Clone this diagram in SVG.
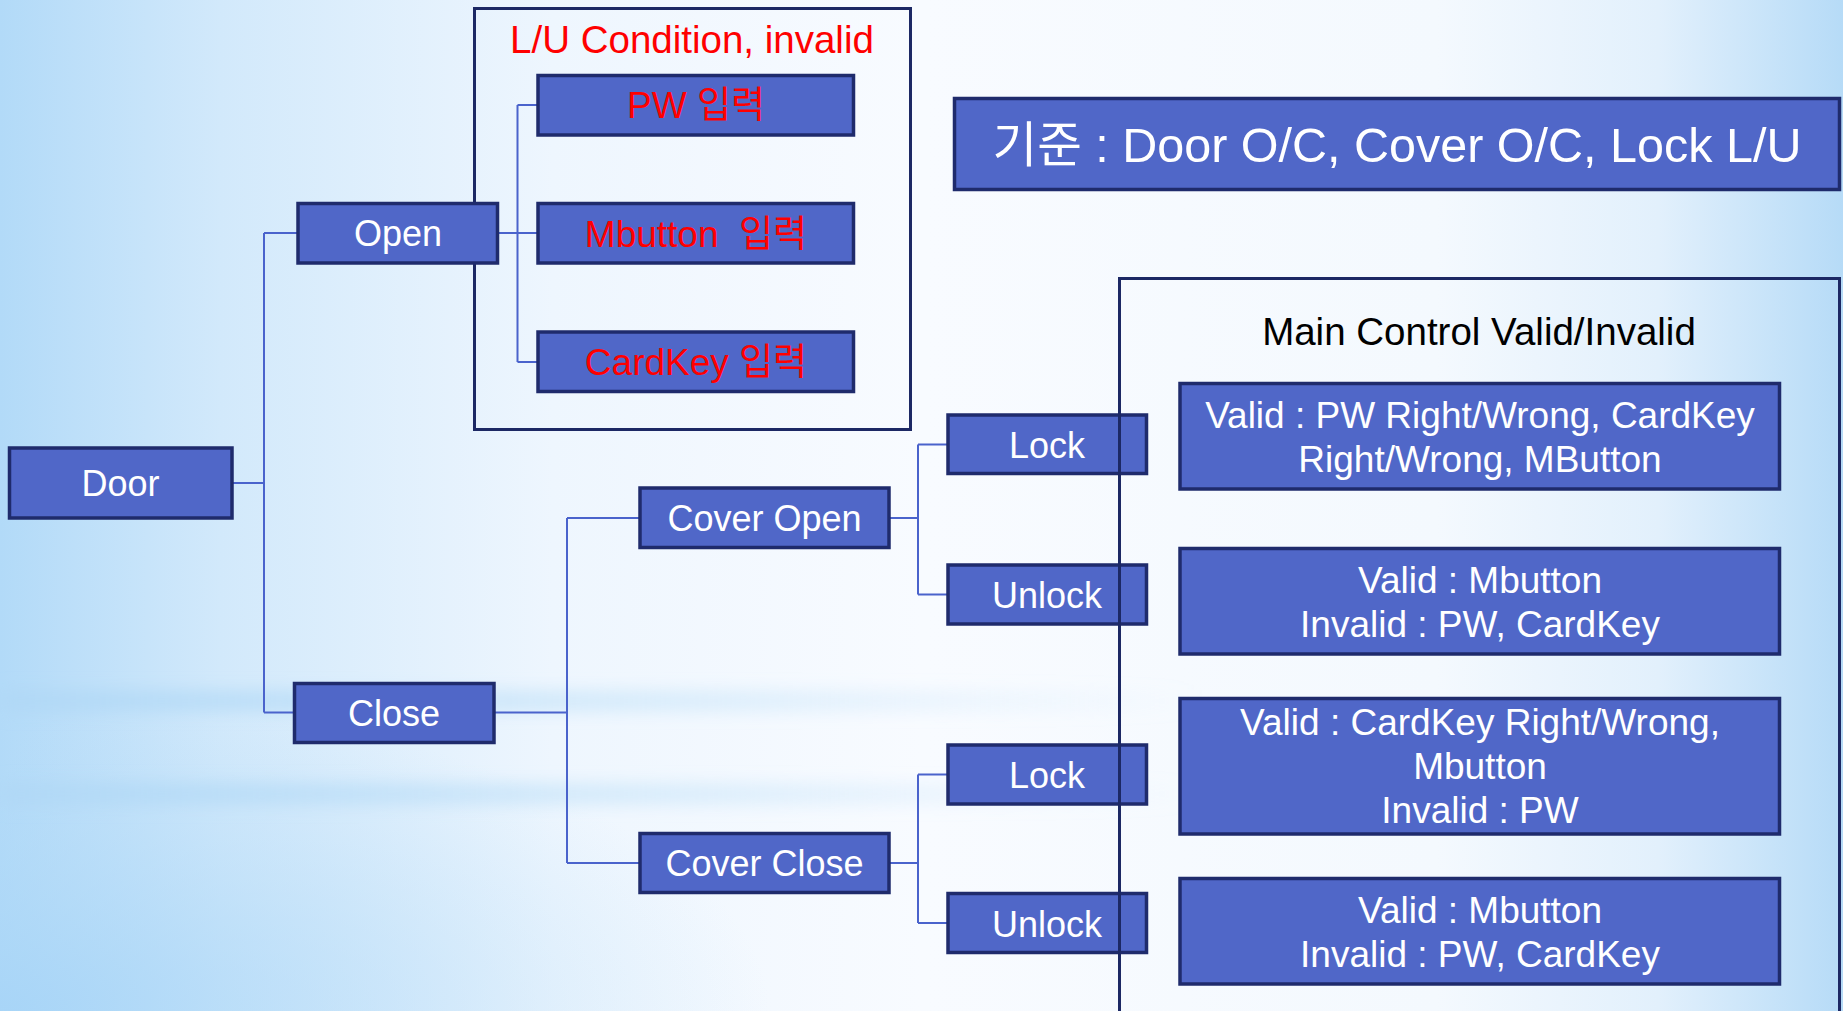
<svg xmlns="http://www.w3.org/2000/svg" width="1843" height="1011" viewBox="0 0 1843 1011">
<style>
  .node { fill: #5067c8; stroke: #1f2b6c; stroke-width: 3.5; }
  .frame { fill: none; stroke: #1c2864; stroke-width: 3; }
  .conn { fill: none; stroke: #4a63cc; stroke-width: 2; }
  text { font-family: "Liberation Sans", "Noto Sans CJK KR", sans-serif; text-anchor: middle; white-space: pre; }
  .w { fill: #ffffff; font-size: 36px; }
  .v { font-size: 37px; }
  .r { fill: #ff0000; font-size: 37px; }
  .title { font-size: 38.5px; }
  .k { fill: #000000; font-size: 38.5px; }
</style>
<defs>
  <linearGradient id="bgH" x1="0" y1="0" x2="1" y2="0">
    <stop offset="0" stop-color="#b2daf8"/>
    <stop offset="0.12" stop-color="#d2e9fb"/>
    <stop offset="0.3" stop-color="#eef6fe"/>
    <stop offset="0.5" stop-color="#f8fbff"/>
    <stop offset="0.78" stop-color="#f4f9fe"/>
    <stop offset="0.9" stop-color="#e2f0fc"/>
    <stop offset="1" stop-color="#b6dbf7"/>
  </linearGradient>
  <linearGradient id="bandFade" x1="0" y1="0" x2="1" y2="0">
    <stop offset="0" stop-color="#b0d8f6" stop-opacity="0.9"/>
    <stop offset="0.5" stop-color="#bcdff8" stop-opacity="0.5"/>
    <stop offset="1" stop-color="#c0e0f8" stop-opacity="0"/>
  </linearGradient>
  <radialGradient id="bl" cx="0" cy="1" r="0.7">
    <stop offset="0" stop-color="#a6d4f7" stop-opacity="1"/>
    <stop offset="1" stop-color="#b6dcf7" stop-opacity="0"/>
  </radialGradient>
  <filter id="blur" x="-10%" y="-200%" width="120%" height="500%">
    <feGaussianBlur stdDeviation="8"/>
  </filter>
</defs>

<!-- background -->
<rect x="0" y="0" width="1843" height="1011" fill="url(#bgH)"/>
<rect x="0" y="560" width="1100" height="451" fill="url(#bl)" opacity="0.85"/>
<rect x="0" y="690" width="1200" height="22" fill="url(#bandFade)" filter="url(#blur)"/>
<rect x="0" y="783" width="1200" height="22" fill="url(#bandFade)" filter="url(#blur)"/>

<!-- connectors -->
<g id="connectors">
  <path class="conn" d="M232,483 H264 M264,233 V712.5 M264,233 H298 M264,712.5 H294"/>
  <path class="conn" d="M498,233 H538 M517.5,105 V362 M517.5,105 H538 M517.5,362 H538"/>
  <path class="conn" d="M494,712.5 H567 M567,518 V863 M567,518 H640 M567,863 H640"/>
  <path class="conn" d="M889,518 H918 M918,444.5 V594.5 M918,444.5 H948 M918,594.5 H948"/>
  <path class="conn" d="M889,863 H918 M918,774.5 V923 M918,774.5 H948 M918,923 H948"/>
</g>

<!-- L/U condition frame -->
<g id="lu-frame">
  <rect class="frame" x="474.5" y="8.5" width="436" height="421"/>
  <text class="r title" x="692" y="53">L/U Condition, invalid</text>
</g>

<g id="door"><rect class="node" x="9.5" y="448" width="222.5" height="70"/><text class="w" x="120.5" y="496">Door</text></g>
<g id="open"><rect class="node" x="298" y="203.5" width="199.5" height="59.5"/><text class="w" x="398" y="246">Open</text></g>
<g id="close"><rect class="node" x="294.5" y="683.5" width="199.5" height="59"/><text class="w" x="394" y="725.5">Close</text></g>

<g id="pw"><rect class="node" x="538" y="75.5" width="315.5" height="59.5"/><text class="r" x="696" y="118">PW 입력</text></g>
<g id="mbutton"><rect class="node" x="538" y="203.5" width="315.5" height="59.5"/><text class="r" x="696" y="246.5">Mbutton  입력</text></g>
<g id="cardkey"><rect class="node" x="538" y="332" width="315.5" height="59.5"/><text class="r" x="696" y="375">CardKey 입력</text></g>

<g id="criteria"><rect class="node" x="954.5" y="98.5" width="885" height="91"/><text class="w" style="font-size:48.5px" x="1397" y="162">기준 : Door O/C, Cover O/C, Lock L/U</text></g>

<g id="cover-open"><rect class="node" x="640" y="488" width="249" height="59.5"/><text class="w" x="764.5" y="531">Cover Open</text></g>
<g id="cover-close"><rect class="node" x="640" y="833.5" width="249" height="59"/><text class="w" x="764.5" y="876">Cover Close</text></g>

<g id="lock1"><rect class="node" x="948" y="415" width="198.5" height="58.5"/><text class="w" x="1047" y="457.5">Lock</text></g>
<g id="unlock1"><rect class="node" x="948" y="565" width="198.5" height="59"/><text class="w" x="1047" y="608">Unlock</text></g>
<g id="lock2"><rect class="node" x="948" y="745" width="198.5" height="59"/><text class="w" x="1047" y="787.5">Lock</text></g>
<g id="unlock2"><rect class="node" x="948" y="893.5" width="198.5" height="59"/><text class="w" x="1047" y="936.5">Unlock</text></g>

<!-- Main control frame -->
<g id="main-frame">
  <rect class="frame" x="1119.5" y="278.5" width="720" height="800"/>
  <text class="k" x="1479" y="345">Main Control Valid/Invalid</text>
</g>

<g id="valid1"><rect class="node" x="1180" y="383.5" width="599.5" height="105.5"/>
  <text class="w v" x="1480" y="427.5">Valid : PW Right/Wrong, CardKey</text>
  <text class="w v" x="1480" y="471.5">Right/Wrong, MButton</text></g>
<g id="valid2"><rect class="node" x="1180" y="548.5" width="599.5" height="105.5"/>
  <text class="w v" x="1480" y="592.5">Valid : Mbutton</text>
  <text class="w v" x="1480" y="636.5">Invalid : PW, CardKey</text></g>
<g id="valid3"><rect class="node" x="1180" y="698.5" width="599.5" height="135.5"/>
  <text class="w v" x="1480" y="735">Valid : CardKey Right/Wrong,</text>
  <text class="w v" x="1480" y="779">Mbutton</text>
  <text class="w v" x="1480" y="823">Invalid : PW</text></g>
<g id="valid4"><rect class="node" x="1180" y="878.5" width="599.5" height="105.5"/>
  <text class="w v" x="1480" y="922.5">Valid : Mbutton</text>
  <text class="w v" x="1480" y="966.5">Invalid : PW, CardKey</text></g>
</svg>
